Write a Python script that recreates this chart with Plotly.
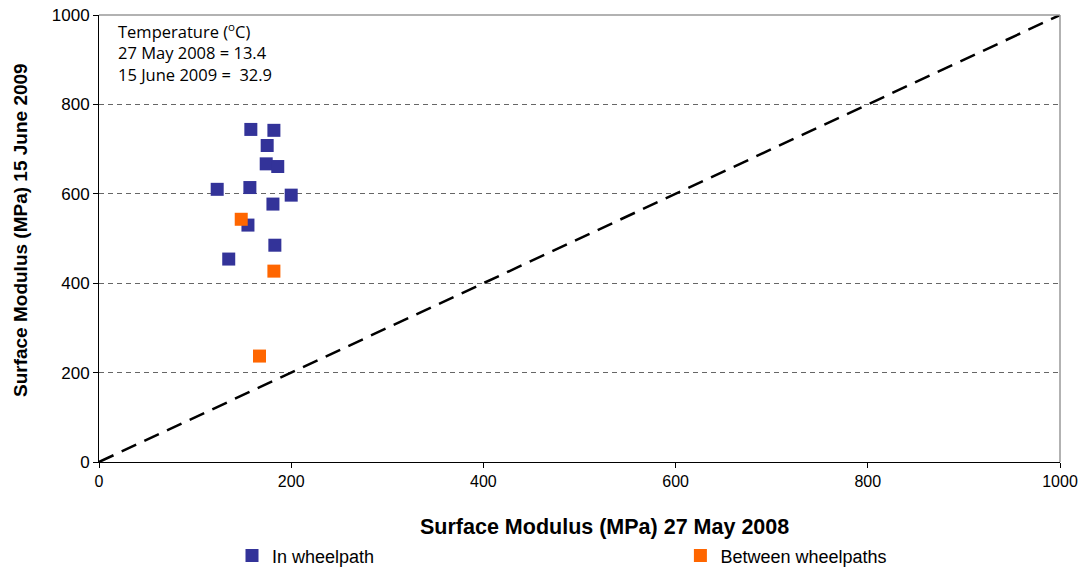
import plotly.graph_objects as go

# Surface modulus (MPa): 27 May 2008 vs 15 June 2009
in_wheelpath_2008 = [158, 182, 175, 174, 186, 123, 157, 200, 181, 155, 183, 135]
in_wheelpath_2009 = [744, 742, 708, 667, 661, 610, 614, 597, 577, 530, 485, 454]

between_2008 = [148, 182, 167]
between_2009 = [543, 427, 237]

# line of equality
equality_x = [0, 1000]
equality_y = [0, 1000]

axis_ticks = [0, 200, 400, 600, 800, 1000]

BLUE = "#333399"
ORANGE = "#FF6600"
FONT = "Liberation Sans, Arial, sans-serif"

fig = go.Figure()

fig.add_trace(go.Scatter(
    x=equality_x, y=equality_y, mode="lines",
    line=dict(color="black", width=2.5, dash="16px,9px"),
    showlegend=False, hoverinfo="skip",
))

fig.add_trace(go.Scatter(
    x=in_wheelpath_2008, y=in_wheelpath_2009, mode="markers",
    name="In wheelpath", legend="legend",
    marker=dict(symbol="square", size=13, color=BLUE, line=dict(width=0)),
))

fig.add_trace(go.Scatter(
    x=between_2008, y=between_2009, mode="markers",
    name="Between wheelpaths", legend="legend2",
    marker=dict(symbol="square", size=13, color=ORANGE, line=dict(width=0)),
))

legend_style = dict(
    orientation="h", yanchor="middle", y=-0.21, xanchor="left",
    font=dict(size=18, family=FONT), itemwidth=30, bgcolor="rgba(0,0,0,0)",
)

fig.update_layout(
    width=1087, height=568,
    margin=dict(l=99, r=27, t=15, b=106, autoexpand=False),
    paper_bgcolor="white", plot_bgcolor="white",
    font=dict(family=FONT, size=16, color="black"),
    xaxis=dict(
        range=[0, 1000], tickvals=axis_ticks, showgrid=False, zeroline=False,
        showline=True, linecolor="black", linewidth=1,
        ticks="outside", ticklen=5, tickcolor="black",
        tickfont=dict(size=16, family=FONT),
    ),
    yaxis=dict(
        range=[0, 1000], tickvals=axis_ticks, showgrid=True, zeroline=False,
        gridcolor="#666666", griddash="5px,4px", gridwidth=1,
        showline=True, linecolor="black", linewidth=1,
        ticks="outside", ticklen=5, tickcolor="black",
        tickfont=dict(size=17, family=FONT),
    ),
    legend=dict(legend_style, x=0.1384),
    legend2=dict(legend_style, x=0.605),
    shapes=[
        dict(type="line", xref="paper", yref="paper", x0=1, x1=1, y0=0, y1=1,
             line=dict(color="#999999", width=1.5)),
        dict(type="line", xref="paper", yref="paper", x0=0, x1=1, y0=1, y1=1,
             line=dict(color="#999999", width=1.5)),
    ],
    annotations=[
        # axis titles
        dict(
            xref="paper", yref="paper", x=0.5265, y=-0.145,
            xanchor="center", yanchor="middle", showarrow=False,
            text="<b>Surface Modulus (MPa) 27 May 2008</b>",
            font=dict(size=21.5, family=FONT, color="black"),
        ),
        dict(
            xref="paper", yref="paper", x=-0.0822, y=0.519,
            xanchor="center", yanchor="middle", showarrow=False, textangle=-90,
            text="<b>Surface Modulus (MPa) 15 June 2009</b>",
            font=dict(size=19, family=FONT, color="black"),
        ),
        # temperature note
        dict(
            xref="paper", yref="paper", x=0.018, y=0.995,
            xanchor="left", yanchor="top", align="left", showarrow=False,
            text="Temperature (<sup>o</sup>C)<br>27 May 2008 = 13.4<br>15 June 2009 =  32.9",
            font=dict(size=16.5, family="Open Sans, sans-serif", color="black"),
        ),
    ],
)

fig.write_html("out.html")
